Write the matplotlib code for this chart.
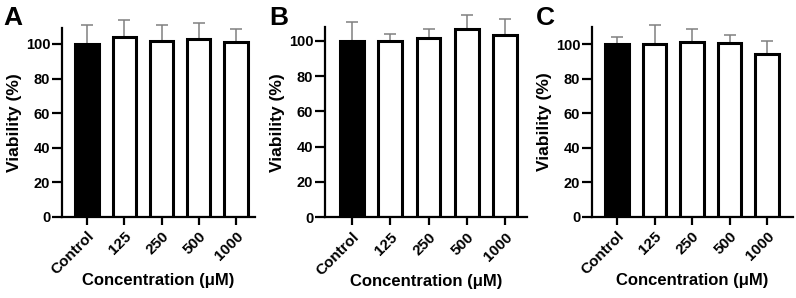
import numpy as np
import matplotlib
matplotlib.use("Agg")
from matplotlib import pyplot as plt

plt.rcParams['font.family'] = ['Liberation Sans', 'DejaVu Sans']
plt.rcParams['font.weight'] = 'bold'

## data
groups = ['Control', '125', '250', '500', '1000']

viab_a = [100, 104.2, 102.0, 102.6, 100.9]
err_a = [10.9, 9.4, 9.0, 9.7, 7.9]

viab_b = [100, 99.6, 101.4, 106.6, 103.4]
err_b = [10.6, 4.4, 5.0, 7.9, 9.1]

viab_c = [100, 100.2, 101.3, 100.4, 94.2]
err_c = [3.9, 10.8, 7.4, 5.0, 7.4]

panels = [
    ('A', viab_a, err_a, [0.0779, 0.2728, 0.2425, 0.633], (-0.67, 4.51), 109.2, 0.004),
    ('B', viab_b, err_b, [0.4083, 0.2708, 0.2538, 0.6376], (-0.71, 4.58), 107.6, 0.338),
    ('C', viab_c, err_c, [0.7437, 0.2728, 0.2525, 0.6356], (-0.67, 4.69), 109.7, 0.673),
]

fig = plt.figure(figsize=(7.96, 2.98), dpi=100)

for letter, vals, errs, rect, xlim, ytop, lx in panels:
    ax = fig.add_axes(rect)
    x = np.arange(len(groups))
    colors = ['black'] + ['white'] * (len(groups) - 1)
    eb = ax.errorbar(x, vals, yerr=[np.zeros(len(errs)), errs], fmt='none',
                     ecolor='#808080', elinewidth=1.1, capsize=4.3, capthick=1.1, zorder=1)
    for art in eb.lines[1] + eb.lines[2]:
        art.set_clip_on(False)
    ax.bar(x, vals, width=0.62, color=colors, edgecolor='black', linewidth=2.2, zorder=2)

    ax.set_xlim(*xlim)
    ax.set_ylim(0, ytop)
    ax.set_yticks([0, 20, 40, 60, 80, 100])
    ax.set_xticks(x)
    ax.set_xticklabels(groups, rotation=45, ha='right', rotation_mode='anchor')

    for side in ['top', 'right']:
        ax.spines[side].set_visible(False)
    for side in ['left', 'bottom']:
        ax.spines[side].set_linewidth(1.6)
    ax.tick_params(axis='y', length=7, width=1.6, labelsize=10.5, pad=1.5)
    ax.tick_params(axis='x', length=6, width=1.6, labelsize=11, pad=3)
    for lab in ax.get_xticklabels() + ax.get_yticklabels():
        lab.set_fontweight('bold')

    ax.set_ylabel('Viability (%)', fontsize=12.5, fontweight='bold', labelpad=3)
    ax.set_xlabel('Concentration (\u03bcM)', fontsize=12, fontweight='bold', labelpad=-3)

    fig.text(lx, 0.98, letter, fontsize=19, fontweight='bold', va='top', ha='left')

plt.savefig('out.png', dpi=100)
plt.close(fig)
